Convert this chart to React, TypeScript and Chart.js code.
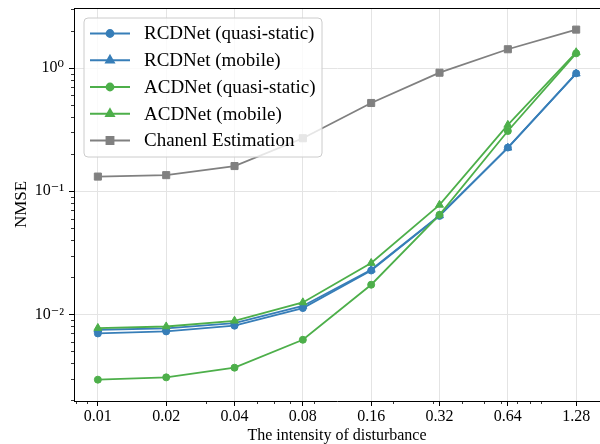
import { useEffect, useRef } from 'react';
import { Chart, registerables } from 'chart.js';
import { drawPoint } from 'chart.js/helpers';

Chart.register(...registerables);

const X_VALUES = [0.01, 0.02, 0.04, 0.08, 0.16, 0.32, 0.64, 1.28];
const X_TICK_LABELS = ['0.01', '0.02', '0.04', '0.08', '0.16', '0.32', '0.64', '1.28'];
const Y_TICK_VALUES = [0.01, 0.1, 1];
const Y_TICK_LABELS = ['10\u207B\u00B2', '10\u207B\u00B9', '10\u2070'];
const X_RANGE = [0.00785, 1.63];
const Y_RANGE = [0.00198, 3.07];

const SERIES_NAMES = [
  'RCDNet (quasi-static)',
  'RCDNet (mobile)',
  'ACDNet (quasi-static)',
  'ACDNet (mobile)',
  'Chanenl Estimation',
];
const RCDNET_QS = [0.007, 0.00727, 0.00809, 0.01125, 0.0227, 0.063, 0.226, 0.905];
const RCDNET_MOBILE = [0.0075, 0.0077, 0.0085, 0.0117, 0.023, 0.0635, 0.225, 0.9];
const ACDNET_QS = [0.00295, 0.00308, 0.00369, 0.00622, 0.0174, 0.0643, 0.308, 1.315];
const ACDNET_MOBILE = [0.00774, 0.00797, 0.00887, 0.0125, 0.0261, 0.0774, 0.345, 1.34];
const CHANNEL_EST = [0.1314, 0.135, 0.16, 0.269, 0.52, 0.916, 1.42, 2.05];

const X_TITLE = 'The intensity of disturbance';
const Y_TITLE = 'NMSE';

const BLUE = '#377eb8';
const GREEN = '#4daf4a';
const GRAY = '#808080';
const GRID = '#e4e4e4';
const FONT = "'Liberation Serif', 'DejaVu Serif', serif";

export default function App() {
  const ref = useRef<HTMLCanvasElement>(null);

  useEffect(() => {
    document.body.style.margin = '0';
    const series = [
      { label: SERIES_NAMES[0], values: RCDNET_QS, color: BLUE, style: 'circle', radius: 3.5 },
      { label: SERIES_NAMES[1], values: RCDNET_MOBILE, color: BLUE, style: 'triangle', radius: 4.6 },
      { label: SERIES_NAMES[2], values: ACDNET_QS, color: GREEN, style: 'circle', radius: 3.5 },
      { label: SERIES_NAMES[3], values: ACDNET_MOBILE, color: GREEN, style: 'triangle', radius: 4.6 },
      { label: SERIES_NAMES[4], values: CHANNEL_EST, color: GRAY, style: 'rect', radius: 5 },
    ];
    const datasets = series.map((s, i) => ({
      label: s.label,
      data: X_VALUES.map((x, j) => ({ x, y: s.values[j] })),
      borderColor: s.color,
      backgroundColor: s.color,
      pointBackgroundColor: s.color,
      pointBorderColor: s.color,
      pointStyle: s.style,
      pointRadius: s.radius,
      pointBorderWidth: 1,
      borderWidth: 1.8,
      tension: 0,
      fill: false,
      clip: false,
      order: series.length - i,
    }));

    const minorTicks = {
      id: 'minorTicks',
      afterDraw(chart: any) {
        const { ctx, chartArea } = chart;
        const xs = chart.scales.x;
        const ys = chart.scales.y;
        ctx.save();
        ctx.strokeStyle = '#000';
        ctx.lineWidth = 0.8;
        for (let e = -4; e <= 1; e++) {
          for (let m = 2; m <= 9; m++) {
            const v = m * Math.pow(10, e);
            if (v > xs.min && v < xs.max && !X_VALUES.some((t) => Math.abs(t - v) < 1e-9)) {
              const px = Math.round(xs.getPixelForValue(v)) + 0.5;
              ctx.beginPath();
              ctx.moveTo(px, chartArea.bottom);
              ctx.lineTo(px, chartArea.bottom + 3);
              ctx.stroke();
            }
            if (v > ys.min && v < ys.max) {
              const py = Math.round(ys.getPixelForValue(v)) + 0.5;
              ctx.beginPath();
              ctx.moveTo(chartArea.left - 3, py);
              ctx.lineTo(chartArea.left, py);
              ctx.stroke();
            }
          }
        }
        // top spine
        ctx.lineWidth = 1;
        ctx.beginPath();
        ctx.moveTo(chartArea.left, Math.round(chartArea.top) + 0.5);
        ctx.lineTo(chartArea.right, Math.round(chartArea.top) + 0.5);
        ctx.stroke();
        ctx.restore();
      },
    };

    const mplLegend = {
      id: 'mplLegend',
      afterDraw(chart: any) {
        const { ctx, chartArea } = chart;
        const bx = chartArea.left + 10;
        const by = chartArea.top + 10;
        const bw = 238;
        const bh = 139;
        const r = 4;
        ctx.save();
        ctx.beginPath();
        ctx.moveTo(bx + r, by);
        ctx.arcTo(bx + bw, by, bx + bw, by + bh, r);
        ctx.arcTo(bx + bw, by + bh, bx, by + bh, r);
        ctx.arcTo(bx, by + bh, bx, by, r);
        ctx.arcTo(bx, by, bx + bw, by, r);
        ctx.closePath();
        ctx.fillStyle = 'rgba(255,255,255,0.8)';
        ctx.fill();
        ctx.strokeStyle = '#cccccc';
        ctx.lineWidth = 1;
        ctx.stroke();
        ctx.font = `19px ${FONT}`;
        ctx.textBaseline = 'middle';
        ctx.textAlign = 'left';
        chart.data.datasets.forEach((ds: any, i: number) => {
          const y = by + 15.5 + i * 26.75;
          ctx.strokeStyle = ds.borderColor;
          ctx.lineWidth = ds.borderWidth;
          ctx.beginPath();
          ctx.moveTo(bx + 6, y);
          ctx.lineTo(bx + 46, y);
          ctx.stroke();
          ctx.fillStyle = ds.pointBackgroundColor;
          ctx.strokeStyle = ds.pointBorderColor;
          drawPoint(ctx, { pointStyle: ds.pointStyle, rotation: 0, radius: ds.pointRadius, borderWidth: ds.pointBorderWidth }, bx + 26, y);
          ctx.fillStyle = '#000';
          ctx.fillText(ds.label, bx + 60, y + 1);
        });
        ctx.restore();
      },
    };

    const tickFont = { family: FONT, size: 16 };
    const chart = new Chart(ref.current as HTMLCanvasElement, {
      type: 'line',
      data: { datasets: datasets as any },
      options: {
        animation: false,
        responsive: true,
        maintainAspectRatio: false,
        layout: { autoPadding: false, padding: { top: 8, left: 0, right: 0, bottom: 0 } },
        plugins: { legend: { display: false }, tooltip: { enabled: false } },
        scales: {
          x: {
            type: 'logarithmic',
            min: X_RANGE[0],
            max: X_RANGE[1],
            bounds: 'data',
            afterBuildTicks: (s: any) => {
              s.ticks = X_VALUES.map((v) => ({ value: v, major: true }));
            },
            afterFit: (s: any) => {
              s.height = 43;
              s.paddingLeft = 0;
              s.paddingRight = 0;
            },
            ticks: {
              autoSkip: false,
              maxRotation: 0,
              minRotation: 0,
              padding: 1,
              color: '#000',
              font: tickFont,
              callback: (v: any) => X_TICK_LABELS[X_VALUES.findIndex((t) => Math.abs(t - v) < 1e-9)],
            },
            grid: { color: GRID, lineWidth: 1, tickLength: 5, tickColor: '#000', drawTicks: true },
            border: { display: true, color: '#000', width: 1 },
            title: { display: true, text: X_TITLE, color: '#000', font: { family: FONT, size: 16, lineHeight: 1.0 }, padding: 0 },
          },
          y: {
            type: 'logarithmic',
            min: Y_RANGE[0],
            max: Y_RANGE[1],
            bounds: 'data',
            afterBuildTicks: (s: any) => {
              s.ticks = Y_TICK_VALUES.map((v) => ({ value: v, major: true }));
            },
            afterFit: (s: any) => {
              s.width = 74;
              s.paddingTop = 0;
              s.paddingBottom = 0;
            },
            ticks: {
              padding: 5,
              color: '#000',
              font: tickFont,
              callback: (v: any) => Y_TICK_LABELS[Y_TICK_VALUES.findIndex((t) => Math.abs(t - v) < 1e-12)],
            },
            grid: { color: GRID, lineWidth: 1, tickLength: 5, tickColor: '#000', drawTicks: true },
            border: { display: true, color: '#000', width: 1 },
            title: { display: true, text: Y_TITLE, color: '#000', font: { family: FONT, size: 17, lineHeight: 1.2 }, padding: { top: 11, bottom: 0 } },
          },
        },
      } as any,
      plugins: [minorTicks, mplLegend],
    });
    return () => chart.destroy();
  }, []);

  return (
    <div style={{ position: 'absolute', left: 0, top: 0, width: 600, height: 444 }}>
      <canvas ref={ref} />
    </div>
  );
}
